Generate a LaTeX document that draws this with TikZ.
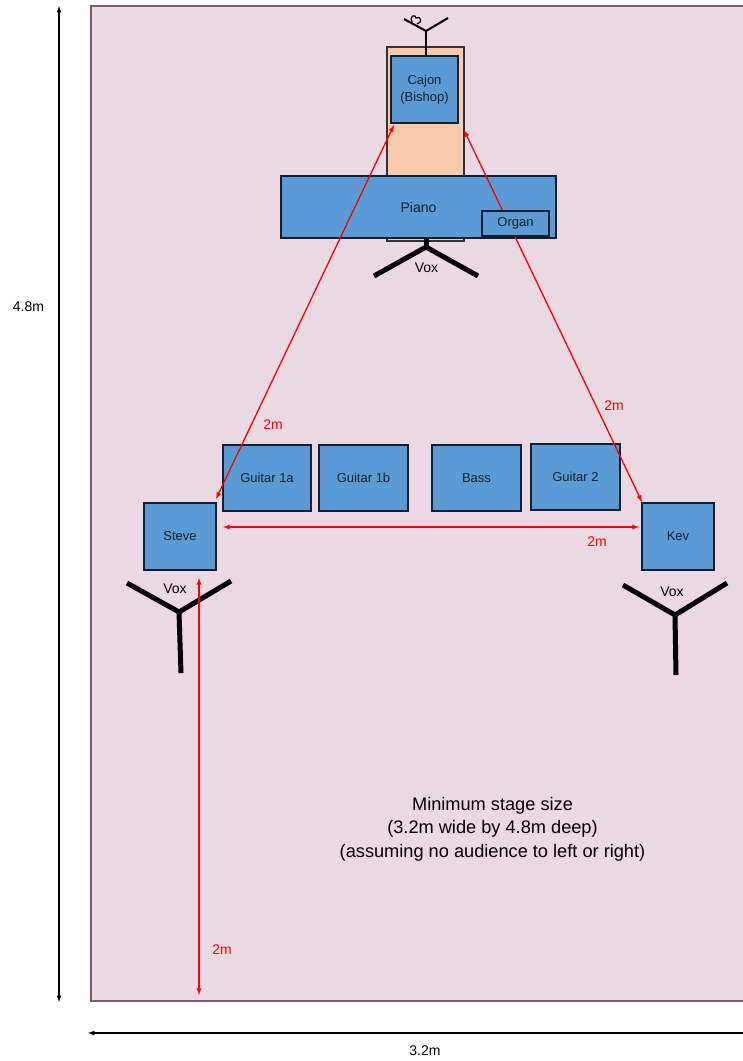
\documentclass[tikz,border=0pt]{standalone}
\usepackage{fontspec}
\setmainfont{Liberation Sans}
\definecolor{stagefill}{HTML}{EAD8E3}
\definecolor{stageline}{HTML}{7E5A72}
\definecolor{boxfill}{HTML}{5B9BD5}
\definecolor{boxline}{HTML}{10202E}
\definecolor{riserfill}{HTML}{F8CBAD}
\tikzset{
  kit/.style={draw=boxline, fill=boxfill, line width=1.3pt, inner sep=0pt, align=center, font=\fontsize{13}{17}\selectfont, text=boxline},
  mic/.style={line width=5pt},
  thinmic/.style={line width=2pt},
  redline/.style={red, line width=1.3pt, <->, >=latex},
  redlabel/.style={red, font=\fontsize{14}{16}\selectfont},
  measure/.style={black, line width=1.2pt, <->, >=latex},
  plainlabel/.style={font=\fontsize{14}{16}\selectfont}
}
\begin{document}
\begin{tikzpicture}[x=1pt,y=-1pt]
  \clip (0,0) rectangle (743,1061);
  % Stage
  \draw[fill=stagefill, draw=stageline, line width=1.5pt] (91,6) rectangle (760,1001);
  % Riser
  \draw[fill=riserfill, draw=black!80, line width=1.3pt] (387,47) rectangle (464,241);
  % Microphones
  \coordinate (topmic) at (426,31);
  \coordinate (pianomic) at (426,247);
  \coordinate (stevemic) at (179,612);
  \coordinate (kevmic) at (675,615);
  \draw[thinmic] (topmic) -- ++(0,26);
  \draw[thinmic] (topmic) -- ++(-22,-12);
  \draw[thinmic] (topmic) -- ++(22,-13);
  \draw[line width=1.2pt] (412,22) .. controls (409,15) and (416,14) .. (416,18) .. controls (421,15) and (423,23) .. (417,24);
  \draw[mic] (pianomic) -- ++(0,-10);
  \draw[mic] (pianomic) -- ++(-52,29);
  \draw[mic] (pianomic) -- ++(52,29);
  \draw[mic] (stevemic) -- (181,673);
  \draw[mic] (stevemic) -- (127,583);
  \draw[mic] (stevemic) -- (231,581);
  \draw[mic] (kevmic) -- (676,675);
  \draw[mic] (kevmic) -- (623,585);
  \draw[mic] (kevmic) -- (727,583);
  % Instruments
  \node[kit, minimum width=67pt, minimum height=67pt] (cajon) at (424.5,89.5) {Cajon\\(Bishop)};
  \node[kit, minimum width=275pt, minimum height=62pt, font=\fontsize{14}{16}\selectfont] (piano) at (418.5,207) {Piano};
  \node[kit, minimum width=88pt, minimum height=66pt] (guitara) at (267,478) {Guitar 1a};
  \node[kit, minimum width=89pt, minimum height=66pt] (guitarb) at (363.5,478) {Guitar 1b};
  \node[kit, minimum width=89pt, minimum height=66pt] (bass) at (476.5,478) {Bass};
  \node[kit, minimum width=89pt, minimum height=66pt] (guitarc) at (575.5,477) {Guitar 2};
  \node[kit, minimum width=72pt, minimum height=67pt] (steve) at (180,536.5) {Steve};
  \node[kit, minimum width=72pt, minimum height=67pt] (kev) at (678,536.5) {Kev};
  % Red distances
  \coordinate (cajonleft) at (394,125);
  \coordinate (steveleft) at (216,499);
  \coordinate (cajonright) at (464,130);
  \coordinate (kevright) at (642,502);
  \coordinate (stevemid) at (223,527);
  \coordinate (kevmid) at (639,527);
  \coordinate (frontedge) at (199,578);
  \coordinate (stageedge) at (199,995);
  \draw[redline] (cajonleft) -- (steveleft);
  \draw[redline] (cajonright) -- (kevright);
  \draw[redline] (stevemid) -- (kevmid);
  \draw[redline] (frontedge) -- (stageedge);
  % Organ sits on top of the red line
  \node[kit, minimum width=67pt, minimum height=25pt] (organ) at (515.5,223.5) {Organ};
  % Labels
  \node[plainlabel] (topvox) at (426.5,268) {Vox};
  \node[plainlabel] (stevevox) at (175,589) {Vox};
  \node[plainlabel] (kevvox) at (672,592) {Vox};
  \node[redlabel] (twoa) at (273,425) {2m};
  \node[redlabel] (twob) at (614,406) {2m};
  \node[redlabel] (twoc) at (597,542) {2m};
  \node[redlabel] (twod) at (222,950) {2m};
  \node[align=center, font=\fontsize{18.2}{23.5}\selectfont] (stagenote) at (492.5,829) {Minimum stage size\\(3.2m wide by 4.8m deep)\\(assuming no audience to left or right)};
  % Overall size
  \coordinate (depthtop) at (59,6);
  \coordinate (depthend) at (59,1002);
  \coordinate (widthleft) at (88,1033);
  \coordinate (widthright) at (760,1033);
  \draw[measure] (depthtop) -- (depthend);
  \draw[measure] (widthleft) -- (widthright);
  \node[plainlabel] (depthlabel) at (28.5,307) {4.8m};
  \node[plainlabel] (widthlabel) at (425,1051) {3.2m};
\end{tikzpicture}
\end{document}
